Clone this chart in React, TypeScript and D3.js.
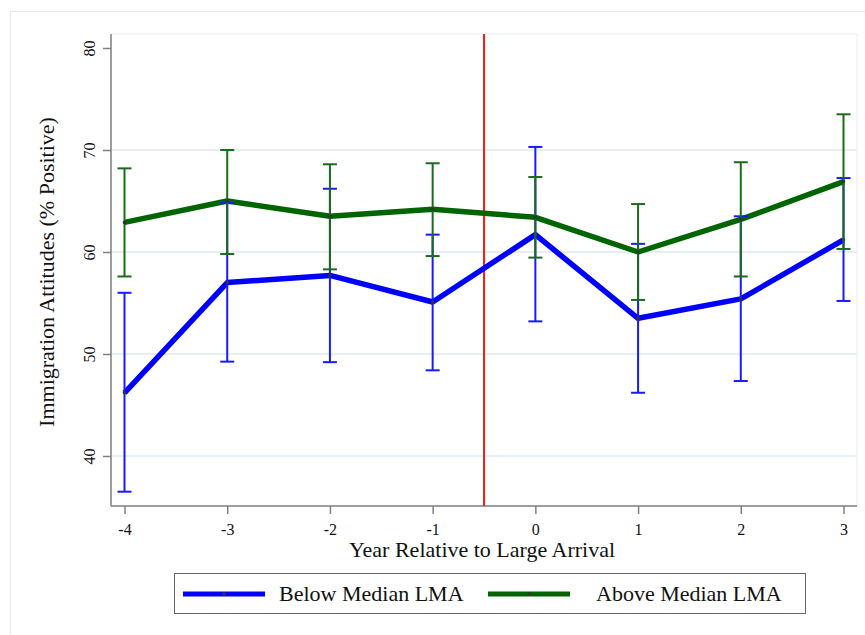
import React, { useEffect, useRef } from 'react'
import * as d3 from 'd3'

const years = [-4, -3, -2, -1, 0, 1, 2, 3]
const belowMean = [46.2, 57.0, 57.7, 55.1, 61.7, 53.5, 55.4, 61.2]
const belowLow = [36.5, 49.25, 49.2, 48.4, 53.2, 46.2, 47.35, 55.2]
const belowHigh = [56.0, 64.8, 66.2, 61.7, 70.3, 60.8, 63.5, 67.25]
const aboveMean = [62.9, 65.0, 63.5, 64.2, 63.4, 60.0, 63.2, 66.9]
const aboveLow = [57.6, 59.8, 58.3, 59.6, 59.45, 55.3, 57.6, 60.3]
const aboveHigh = [68.2, 70.0, 68.6, 68.7, 67.35, 64.7, 68.8, 73.5]
const yTicks = [40, 50, 60, 70, 80]
const eventLine = -0.5

const width = 865
const height = 635
const plot = { left: 111, right: 857, top: 34, bottom: 506 }
const font = '"Liberation Serif", "DejaVu Serif", serif'

export default function App() {
	const ref = useRef<SVGSVGElement>(null)

	useEffect(() => {
		const svg = d3.select(ref.current)
		svg.selectAll('*').remove()

		const x = d3.scaleLinear().domain([-4, 3]).range([124.5, 843.5])
		const y = d3.scaleLinear().domain([40, 80]).range([456, 48])

		// outer frame
		svg.append('rect')
			.attr('x', 10.5).attr('y', 11.5)
			.attr('width', width).attr('height', height)
			.attr('fill', 'white').attr('stroke', '#e4ebee')

		// plot region
		svg.append('rect')
			.attr('x', plot.left).attr('y', plot.top)
			.attr('width', plot.right - plot.left).attr('height', plot.bottom - plot.top)
			.attr('fill', 'white').attr('stroke', '#e8eef1')

		const g = svg.append('g')

		// gridlines
		g.selectAll('.grid')
			.data(yTicks.filter(d => d < 80))
			.enter()
			.append('line')
			.attr('x1', plot.left).attr('x2', plot.right)
			.attr('y1', d => y(d)).attr('y2', d => y(d))
			.attr('stroke', '#e8eff2').attr('stroke-width', 2)

		// axes
		const yAxis = d3.axisLeft(y).tickValues(yTicks).tickSize(8).tickFormat(d3.format('d'))
		const yAxisGroup = g.append('g').attr('transform', `translate(${plot.left},0)`).call(yAxis)
		yAxisGroup.select('.domain').remove()
		yAxisGroup.append('line')
			.attr('x1', 0).attr('x2', 0).attr('y1', plot.top).attr('y2', plot.bottom)
			.attr('stroke', '#808080').attr('stroke-width', 1.5)
		yAxisGroup.selectAll('.tick line').attr('stroke', '#808080').attr('stroke-width', 1.5)
		yAxisGroup.selectAll('.tick text')
			.style('font-size', '16px').style('font-family', font)
			.attr('fill', '#111')
			.attr('x', null).attr('dy', null)
			.attr('text-anchor', 'middle')
			.attr('transform', 'translate(-16,0) rotate(-90)')

		const xAxis = d3.axisBottom(x).tickValues(years).tickSize(8).tickFormat(d3.format('d'))
		const xAxisGroup = g.append('g').attr('transform', `translate(0,${plot.bottom})`).call(xAxis)
		xAxisGroup.select('.domain').remove()
		xAxisGroup.append('line')
			.attr('x1', plot.left).attr('x2', plot.right).attr('y1', 0).attr('y2', 0)
			.attr('stroke', '#808080').attr('stroke-width', 1.5)
		xAxisGroup.selectAll('.tick line').attr('stroke', '#808080').attr('stroke-width', 1.5)
		xAxisGroup.selectAll('.tick text')
			.style('font-size', '16px').style('font-family', font)
			.attr('fill', '#111')
			.attr('y', 17.5)
			.text(d => (d as number) < 0 ? `-${Math.abs(d as number)}` : `${d}`)

		// axis titles
		svg.append('text')
			.attr('transform', `translate(54,${(plot.top + plot.bottom) / 2 + 2}) rotate(-90)`)
			.attr('text-anchor', 'middle')
			.attr('font-family', font).attr('font-size', 22).attr('fill', '#111')
			.text('Immigration Attitudes (% Positive)')
		svg.append('text')
			.attr('x', 482).attr('y', 557)
			.attr('text-anchor', 'middle')
			.attr('font-family', font).attr('font-size', 22).attr('fill', '#111')
			.text('Year Relative to Large Arrival')

		// event line
		g.append('line')
			.attr('x1', x(eventLine)).attr('x2', x(eventLine))
			.attr('y1', plot.top).attr('y2', plot.bottom)
			.attr('stroke', '#ff1a1a').attr('stroke-width', 2)

		const series = [
			{ mean: belowMean, low: belowLow, high: belowHigh, line: '#0000ff', bar: '#1a1aff' },
			{ mean: aboveMean, low: aboveLow, high: aboveHigh, line: '#006400', bar: '#1a6b1a' },
		]

		const line = d3.line<number>().x((d, i) => x(years[i])).y(d => y(d))

		series.forEach(s => {
			g.append('path')
				.attr('d', line(s.mean))
				.attr('fill', 'none')
				.attr('stroke', s.line)
				.attr('stroke-width', 5.5)
				.attr('stroke-linejoin', 'round')
		})

		series.forEach(s => {
			const bars = g.append('g')
			years.forEach((yr, i) => {
				bars.append('line')
					.attr('x1', x(yr)).attr('x2', x(yr))
					.attr('y1', y(s.low[i])).attr('y2', y(s.high[i]))
					.attr('stroke', s.bar).attr('stroke-width', 2)
				;[s.low[i], s.high[i]].forEach(v => {
					bars.append('line')
						.attr('x1', x(yr) - 7).attr('x2', x(yr) + 7)
						.attr('y1', y(v)).attr('y2', y(v))
						.attr('stroke', s.bar).attr('stroke-width', 2)
				})
			})
			bars.selectAll('circle')
				.data(s.mean)
				.enter()
				.append('circle')
				.attr('cx', (d, i) => x(years[i]))
				.attr('cy', d => y(d))
				.attr('r', 1.8)
				.attr('fill', '#333')
		})

		// legend
		const legend = svg.append('g')
		legend.append('rect')
			.attr('x', 174.5).attr('y', 573.5).attr('width', 631).attr('height', 40)
			.attr('fill', 'white').attr('stroke', '#666').attr('stroke-width', 1)
		const items = [
			{ label: 'Below Median LMA', color: '#0000ff', x0: 183, tx: 279 },
			{ label: 'Above Median LMA', color: '#006400', x0: 488, tx: 596 },
		]
		items.forEach(it => {
			legend.append('line')
				.attr('x1', it.x0).attr('x2', it.x0 + 82)
				.attr('y1', 594).attr('y2', 594)
				.attr('stroke', it.color).attr('stroke-width', 5)
			legend.append('circle')
				.attr('cx', it.x0 + 41).attr('cy', 594).attr('r', 1.8).attr('fill', '#333')
			legend.append('text')
				.attr('x', it.tx).attr('y', 601)
				.attr('font-family', font).attr('font-size', 22).attr('fill', '#111')
				.text(it.label)
		})
	}, [])

	return (
		<svg
			ref={ref}
			width={width}
			height={height}
			style={{ position: 'absolute', left: 0, top: 0, background: 'white' }}
		/>
	)
}
